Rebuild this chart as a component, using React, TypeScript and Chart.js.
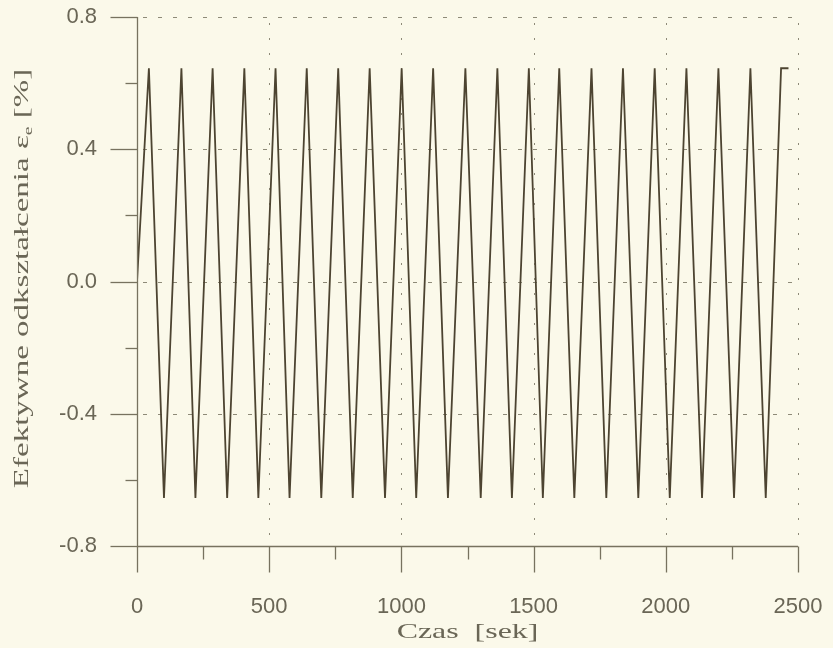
import React, { useEffect, useRef } from "react";
import { Chart, registerables } from "chart.js";

Chart.register(...registerables);

// Vertices of the effective strain history (time in s, strain in %)
const timeSec = [
  0, 45, 102, 168, 221, 286, 341, 406, 459, 524, 577, 642, 697, 761, 816, 880,
  938, 1001, 1056, 1120, 1176, 1242, 1300, 1363, 1418, 1482, 1535, 1597, 1654,
  1719, 1775, 1838, 1896, 1958, 2015, 2078, 2137, 2199, 2258, 2320, 2378, 2436,
  2464,
];
const strainPct = [
  0, 0.645, -0.655, 0.645, -0.655, 0.645, -0.655, 0.645, -0.655, 0.645, -0.655,
  0.645, -0.655, 0.645, -0.655, 0.645, -0.655, 0.645, -0.655, 0.645, -0.655,
  0.645, -0.655, 0.645, -0.655, 0.645, -0.655, 0.645, -0.655, 0.645, -0.655,
  0.645, -0.655, 0.645, -0.655, 0.645, -0.655, 0.645, -0.655, 0.645, -0.655,
  0.645, 0.645,
];

const xMajorTicks = [0, 500, 1000, 1500, 2000, 2500];
const xMinorTicks = [250, 750, 1250, 1750, 2250];
const yMajorTicks = [-0.8, -0.4, 0, 0.4, 0.8];
const yMinorTicks = [-0.6, -0.2, 0.2, 0.6];
const xGridTicks = [500, 1000, 1500, 2000, 2500];
const yGridTicks = [-0.4, 0, 0.4, 0.8];

const xTitle = "Czas  [sek]";
const yTitleMain = "Efektywne odkształcenia ε";
const yTitleSub = "e";
const yTitleEnd = " [%]";

const BG = "#fbf9ea";
const AXIS = "#77725f";
const GRID = "#8e8a78";
const TEXT = "#6a6656";
const LINE = "#4d4431";

const decorPlugin = {
  id: "decor",
  beforeDraw(chart: any) {
    const { ctx, width, height } = chart;
    ctx.save();
    ctx.fillStyle = BG;
    ctx.fillRect(0, 0, width, height);
    ctx.restore();
  },
  beforeDatasetsDraw(chart: any) {
    const { ctx, chartArea, scales } = chart;
    const xs = scales.x;
    const ys = scales.y;
    ctx.save();
    ctx.strokeStyle = GRID;
    ctx.lineWidth = 1;
    ctx.setLineDash([4, 11]);
    yGridTicks.forEach((v) => {
      const y = Math.round(ys.getPixelForValue(v)) + 0.5;
      ctx.beginPath();
      ctx.moveTo(chartArea.left + 6, y);
      ctx.lineTo(chartArea.right, y);
      ctx.stroke();
    });
    ctx.setLineDash([2, 13]);
    xGridTicks.forEach((v) => {
      const x = Math.round(xs.getPixelForValue(v)) + 0.5;
      ctx.beginPath();
      ctx.moveTo(x, chartArea.top + 6);
      ctx.lineTo(x, chartArea.bottom);
      ctx.stroke();
    });
    ctx.restore();
  },
  afterDraw(chart: any) {
    const { ctx, chartArea, scales } = chart;
    const xs = scales.x;
    const ys = scales.y;
    ctx.save();
    ctx.strokeStyle = AXIS;
    ctx.lineWidth = 1.3;
    ctx.setLineDash([]);
    const L = chartArea.left + 0.5;
    const B = chartArea.bottom + 0.5;
    ctx.beginPath();
    ctx.moveTo(L, chartArea.top);
    ctx.lineTo(L, B);
    ctx.lineTo(chartArea.right, B);
    ctx.stroke();
    xMajorTicks.forEach((v) => {
      const x = Math.round(xs.getPixelForValue(v)) + 0.5;
      ctx.beginPath();
      ctx.moveTo(x, B);
      ctx.lineTo(x, B + 26);
      ctx.stroke();
    });
    xMinorTicks.forEach((v) => {
      const x = Math.round(xs.getPixelForValue(v)) + 0.5;
      ctx.beginPath();
      ctx.moveTo(x, B);
      ctx.lineTo(x, B + 13);
      ctx.stroke();
    });
    yMajorTicks.forEach((v) => {
      const y = Math.round(ys.getPixelForValue(v)) + 0.5;
      ctx.beginPath();
      ctx.moveTo(L, y);
      ctx.lineTo(L - 27, y);
      ctx.stroke();
    });
    yMinorTicks.forEach((v) => {
      const y = Math.round(ys.getPixelForValue(v)) + 0.5;
      ctx.beginPath();
      ctx.moveTo(L, y);
      ctx.lineTo(L - 12, y);
      ctx.stroke();
    });

    // titles (serif, stretched along the text like the scanned original)
    const stretch = 1.5;
    ctx.fillStyle = TEXT;
    ctx.font = "22px 'Liberation Serif', 'Times New Roman', serif";
    ctx.textBaseline = "middle";
    ctx.textAlign = "center";
    const cx = (chartArea.left + chartArea.right) / 2;
    ctx.save();
    ctx.translate(cx, 632);
    ctx.scale(1.45, 1);
    ctx.fillText(xTitle, 0, 0);
    ctx.restore();

    const cy = (chartArea.top + chartArea.bottom) / 2 - 3;
    ctx.save();
    ctx.translate(21, cy);
    ctx.rotate(-Math.PI / 2);
    ctx.scale(stretch, 1);
    ctx.textAlign = "left";
    ctx.textBaseline = "alphabetic";
    const mainFont = "22px 'Liberation Serif', 'Times New Roman', serif";
    const subFont = "13px 'Liberation Serif', 'Times New Roman', serif";
    ctx.font = mainFont;
    const w1 = ctx.measureText(yTitleMain).width;
    const w3 = ctx.measureText(yTitleEnd).width;
    ctx.font = subFont;
    const w2 = ctx.measureText(yTitleSub).width;
    const total = w1 + w2 + w3;
    let px = -total / 2;
    const base = 7;
    ctx.font = mainFont;
    ctx.fillText(yTitleMain, px, base);
    px += w1;
    ctx.font = subFont;
    ctx.fillText(yTitleSub, px, base + 4);
    px += w2;
    ctx.font = mainFont;
    ctx.fillText(yTitleEnd, px, base);
    ctx.restore();

    ctx.restore();
  },
};

const zeroPad = (scale: any) => {
  scale.paddingLeft = 0;
  scale.paddingRight = 0;
  scale.paddingTop = 0;
  scale.paddingBottom = 0;
};

export default function App() {
  const canvasRef = useRef<HTMLCanvasElement | null>(null);

  useEffect(() => {
    const canvas = canvasRef.current;
    if (!canvas) return;
    const points = timeSec.map((t, i) => ({ x: t, y: strainPct[i] }));
    const tickFont = { family: "'Liberation Sans', Arial, sans-serif", size: 22 };
    const chart = new Chart(canvas, {
      type: "line",
      data: {
        datasets: [
          {
            data: points,
            borderColor: LINE,
            borderWidth: 1.8,
            pointRadius: 0,
            tension: 0,
            fill: false,
          },
        ],
      },
      options: {
        animation: false,
        responsive: false,
        devicePixelRatio: 1,
        events: [],
        layout: { padding: { left: 0, right: 35, top: 17, bottom: 0 } },
        plugins: {
          legend: { display: false },
          tooltip: { enabled: false },
          title: { display: false },
        },
        scales: {
          x: {
            type: "linear",
            min: 0,
            max: 2500,
            afterFit: (scale: any) => {
              scale.height = 102;
              zeroPad(scale);
            },
            afterBuildTicks: (scale: any) => {
              scale.ticks = xMajorTicks.map((v) => ({ value: v }));
            },
            grid: { display: false, drawTicks: false },
            border: { display: false },
            ticks: {
              color: TEXT,
              font: tickFont,
              padding: 48,
              maxRotation: 0,
              autoSkip: false,
              callback: (v: any) => String(v),
            },
            title: { display: false },
          },
          y: {
            type: "linear",
            min: -0.8,
            max: 0.8,
            afterFit: (scale: any) => {
              scale.width = 137;
              zeroPad(scale);
            },
            afterBuildTicks: (scale: any) => {
              scale.ticks = yMajorTicks.map((v) => ({ value: v }));
            },
            grid: { display: false, drawTicks: false },
            border: { display: false },
            ticks: {
              color: TEXT,
              font: tickFont,
              padding: 40,
              autoSkip: false,
              callback: (v: any) => Number(v).toFixed(1),
            },
            title: { display: false },
          },
        },
      },
      plugins: [decorPlugin],
    });
    return () => chart.destroy();
  }, []);

  return (
    <div style={{ position: "fixed", left: 0, top: 0, width: 833, height: 648 }}>
      <canvas ref={canvasRef} width={833} height={648} style={{ display: "block" }} />
    </div>
  );
}
